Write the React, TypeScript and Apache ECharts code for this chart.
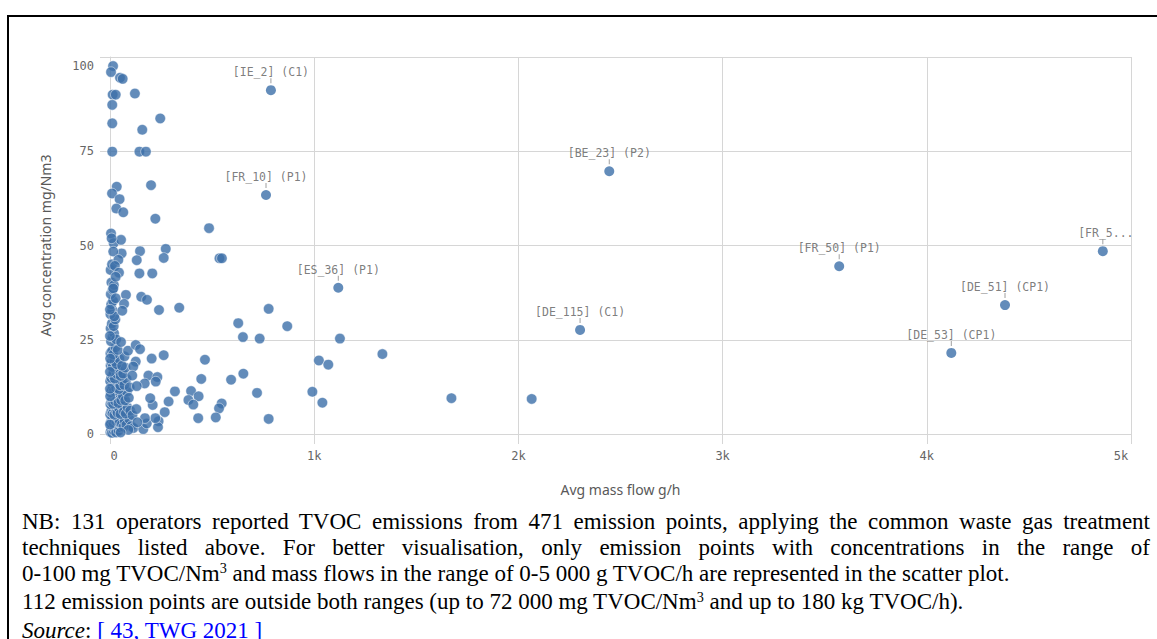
import React, { useEffect, useRef } from "react";
import * as echarts from "echarts";

// Labelled emission points
const labelNames = [
  "[IE_2] (C1)",
  "[FR_10] (P1)",
  "[ES_36] (P1)",
  "[BE_23] (P2)",
  "[DE_115] (C1)",
  "[FR_50] (P1)",
  "[FR_5...",
  "[DE_51] (CP1)",
  "[DE_53] (CP1)",
];
const labelMassFlow = [788, 764, 1118, 2445, 2302, 3571, 4862, 4383, 4120];
const labelConc = [91.2, 63.4, 38.8, 69.7, 27.6, 44.5, 48.5, 34.2, 21.5];

// Scattered (readable) points: [mass flow g/h, concentration mg/Nm3]
const spreadPoints: [number, number][] = [
  [15, 97.6], [5, 96.0], [49, 94.5], [62, 94.2], [13, 90.0], [28, 90.0], [122, 90.3],
  [11, 87.3], [246, 83.7], [11, 82.4], [158, 80.7], [11, 74.9], [144, 74.9], [176, 74.9],
  [33, 65.6], [10, 63.8], [47, 62.3], [201, 66.0], [31, 59.8], [65, 58.8], [222, 57.1],
  [485, 54.6], [5, 53.2], [18, 50.6], [54, 51.5], [8, 51.9],
  [147, 48.5], [273, 49.1], [131, 46.1], [263, 46.7], [536, 46.6], [548, 46.6], [144, 42.6],
  [207, 42.6], [57, 47.9], [16, 48.4], [41, 46.2], [24, 44.6], [44, 42.8], [28, 41.7],
  [16, 38.6], [78, 36.9], [153, 36.4], [181, 35.6], [28, 36.0], [69, 34.5], [60, 32.7],
  [240, 32.9], [339, 33.5], [777, 33.2], [628, 29.4], [868, 28.6], [651, 25.7], [733, 25.3],
  [1126, 25.3], [1334, 21.2], [1023, 19.5], [1069, 18.4], [54, 24.4], [88, 22.1], [126, 23.6],
  [147, 22.5], [263, 20.9], [204, 20.0], [465, 19.7], [126, 19.2], [114, 17.9], [109, 15.5],
  [188, 15.5], [232, 15.1], [224, 13.9], [447, 14.6], [593, 14.4], [653, 16.0], [170, 13.4],
  [131, 12.7], [318, 11.3], [397, 11.4], [434, 10.0], [384, 9.0], [408, 7.8], [287, 8.6],
  [209, 7.7], [197, 9.5], [720, 10.9], [991, 11.2], [1040, 8.3], [547, 8.1], [534, 6.8],
  [268, 5.8], [129, 6.6], [432, 4.2], [518, 4.4], [777, 4.0], [238, 3.4], [235, 1.8],
  [163, 1.3], [180, 2.8], [222, 4.2], [90, 1.1], [52, 0.4], [171, 4.2], [134, 3.1],
  [1672, 9.5], [2065, 9.3],
];

// Dense cluster near zero mass flow (estimated)
const clusterPoints: [number, number][] = [
  [2, 0.5], [6, 1.2], [10, 0.3], [14, 2.0], [19, 0.8], [24, 1.5], [30, 0.4], [36, 2.2], [42, 0.9],
  [48, 1.8], [3, 3.0], [8, 3.6], [13, 4.1], [17, 2.9], [22, 3.8], [27, 4.6], [33, 3.3], [39, 4.0],
  [45, 3.1], [58, 2.6], [66, 1.9], [72, 3.5], [80, 2.4], [95, 3.9], [104, 2.1], [115, 1.6],
  [1, 5.2], [5, 5.9], [9, 6.4], [12, 5.5], [16, 6.8], [21, 5.1], [26, 7.2], [31, 6.1], [37, 5.6],
  [44, 6.9], [51, 5.3], [60, 7.5], [68, 6.0], [77, 5.4], [86, 7.0], [99, 6.2], [110, 5.0],
  [2, 7.9], [7, 8.5], [11, 9.1], [15, 8.0], [20, 9.8], [25, 8.7], [29, 10.3], [35, 9.4], [41, 8.2],
  [47, 10.8], [55, 9.0], [63, 10.1], [74, 8.9], [83, 11.2], [92, 9.6], [4, 11.0], [9, 11.8],
  [14, 12.5], [19, 11.4], [24, 13.1], [30, 12.2], [36, 13.8], [43, 11.9], [50, 12.9], [58, 14.2],
  [70, 13.0], [81, 14.6], [96, 12.4], [1, 14.0], [6, 14.9], [12, 15.6], [18, 16.3], [23, 14.7],
  [28, 17.0], [34, 15.9], [40, 16.8], [52, 15.4], [64, 16.0], [75, 17.6], [3, 18.2], [8, 19.0],
  [13, 17.8], [17, 20.1], [22, 19.3], [32, 18.5], [46, 19.9], [59, 18.1], [71, 20.6], [2, 21.4],
  [10, 22.0], [16, 21.1], [27, 23.0], [38, 22.3], [5, 24.6], [12, 25.8], [20, 26.7], [30, 25.1],
  [3, 28.0], [9, 29.3], [18, 28.6], [26, 30.4], [2, 31.8], [11, 32.9], [21, 31.2], [6, 34.4],
  [15, 35.3], [4, 37.1], [13, 38.3], [7, 40.2], [19, 39.5], [3, 43.5], [10, 45.0], [1, 20.0],
  [1, 10.0], [0, 2.5], [0, 16.5], [0, 26.0], [0, 33.0], [0, 12.0],
];

const xTickLabels = ["0", "1k", "2k", "3k", "4k", "5k"];
const yTickValues = [0, 25, 50, 75, 100];

const DOT = "#3c6fa9";
const AXIS_GRAY = "#d6d6d6";
const TEXT_GRAY = "#666666";
const MONO = '"DejaVu Sans Mono", monospace';
const TITLE_FONT = { color: "#595959", fontSize: 14, fontFamily: '"Noto Sans", sans-serif' };

export default function App() {
  const ref = useRef<HTMLDivElement>(null);

  useEffect(() => {
    const chart = echarts.init(ref.current!, null, { renderer: "svg" });
    const labelled = labelNames.map((name, i) => ({
      name,
      value: [labelMassFlow[i], labelConc[i]],
      label: name.endsWith("...") ? { offset: [3, 0] } : undefined,
    }));
    chart.setOption({
      animation: false,
      grid: { left: 110, top: 57, width: 1021, height: 377 },
      xAxis: {
        type: "value",
        min: 0,
        max: 5000,
        interval: 1000,
        name: "Avg mass flow g/h",
        nameLocation: "middle",
        nameGap: 48,
        nameTextStyle: TITLE_FONT,
        axisLine: { show: true, lineStyle: { color: AXIS_GRAY } },
        axisTick: { show: true, length: 10, lineStyle: { color: AXIS_GRAY } },
        splitLine: { show: true, lineStyle: { color: AXIS_GRAY } },
        axisLabel: {
          margin: 16,
          color: TEXT_GRAY,
          fontFamily: MONO,
          fontSize: 12,
          formatter: (v: number) => {
            const t = xTickLabels[Math.round(v / 1000)];
            if (v === 0) return "{z|" + t + "}";
            if (v === 5000) return "{e|" + t + "}";
            return t;
          },
          rich: {
            z: { padding: [0, 0, 0, 8], color: TEXT_GRAY, fontFamily: MONO, fontSize: 12 },
            e: { padding: [0, 20, 0, 0], color: TEXT_GRAY, fontFamily: MONO, fontSize: 12 },
          },
        },
      },
      yAxis: {
        type: "value",
        min: yTickValues[0],
        max: yTickValues[yTickValues.length - 1],
        interval: 25,
        name: "Avg concentration mg/Nm3",
        nameLocation: "middle",
        nameGap: 58,
        nameTextStyle: TITLE_FONT,
        axisLine: { show: true, lineStyle: { color: AXIS_GRAY } },
        axisTick: { show: true, length: 10, lineStyle: { color: AXIS_GRAY } },
        splitLine: { show: true, lineStyle: { color: AXIS_GRAY } },
        axisLabel: {
          margin: 16,
          color: TEXT_GRAY,
          fontFamily: MONO,
          fontSize: 12,
          formatter: (v: number) => (v === 100 ? "{t|" + v + "}" : String(v)),
          rich: {
            t: { padding: [18, 0, 0, 0], color: TEXT_GRAY, fontFamily: MONO, fontSize: 12 },
          },
        },
      },
      series: [
        {
          type: "scatter",
          data: clusterPoints,
          symbolSize: 10.5,
          itemStyle: { color: DOT, borderColor: "rgba(255,255,255,0.75)", borderWidth: 0.8 },
          silent: true,
        },
        {
          type: "scatter",
          data: spreadPoints,
          symbolSize: 10.5,
          itemStyle: { color: DOT, borderColor: "rgba(255,255,255,0.75)", borderWidth: 0.8 },
          silent: true,
        },
        {
          type: "scatter",
          data: labelled,
          symbolSize: 10,
          itemStyle: { color: DOT },
          label: {
            show: true,
            position: "top",
            distance: 7,
            formatter: (p: any) => p.name,
            color: "#5c5c5c",
            fontFamily: MONO,
            fontSize: 11.5,
          },
          silent: true,
          z: 3,
        },
        {
          type: "scatter",
          data: labelMassFlow.map((x, i) => [x, labelConc[i]]),
          symbol: "rect",
          symbolSize: [1, 5],
          symbolOffset: [0, -9.5],
          itemStyle: { color: "#888" },
          silent: true,
          z: 4,
        },
      ],
    });
    return () => chart.dispose();
  }, []);

  const sup3 = (
    <span style={{ fontSize: "0.62em", position: "relative", top: "-0.55em" }}>3</span>
  );
  const justified: React.CSSProperties = {
    textAlign: "justify",
    textAlignLast: "justify",
    whiteSpace: "nowrap",
  };

  return (
    <div
      style={{
        position: "fixed",
        left: 0,
        top: 0,
        width: 1157,
        height: 639,
        overflow: "hidden",
        background: "#fff",
      }}
    >
      <div
        style={{
          position: "absolute",
          left: 7,
          top: 15,
          width: 1300,
          height: 800,
          borderTop: "2px solid #000",
          borderLeft: "2px solid #000",
        }}
      />
      <div ref={ref} style={{ position: "absolute", left: 0, top: 0, width: 1157, height: 505 }} />
      <div
        style={{
          position: "absolute",
          left: 22,
          top: 509,
          width: 1128,
          fontFamily: '"Liberation Serif", "Times New Roman", serif',
          fontSize: 23,
          lineHeight: "25.8px",
          color: "#000",
        }}
      >
        <div style={justified}>
          NB: 131 operators reported TVOC emissions from 471 emission points, applying the common
          waste gas treatment
        </div>
        <div style={justified}>
          techniques listed above. For better visualisation, only emission points with
          concentrations in the range of
        </div>
        <div style={{ whiteSpace: "nowrap" }}>
          0-100 mg TVOC/Nm{sup3} and mass flows in the range of 0-5 000 g TVOC/h are represented in
          the scatter plot.
        </div>
        <div style={{ whiteSpace: "nowrap" }}>
          112 emission points are outside both ranges (up to 72 000 mg TVOC/Nm{sup3} and up to 180
          kg TVOC/h).
        </div>
        <div style={{ whiteSpace: "nowrap" }}>
          <i>Source</i>:{" "}
          <span style={{ color: "#0000ff", textDecoration: "underline" }}>[ 43, TWG 2021 ]</span>
        </div>
      </div>
    </div>
  );
}
